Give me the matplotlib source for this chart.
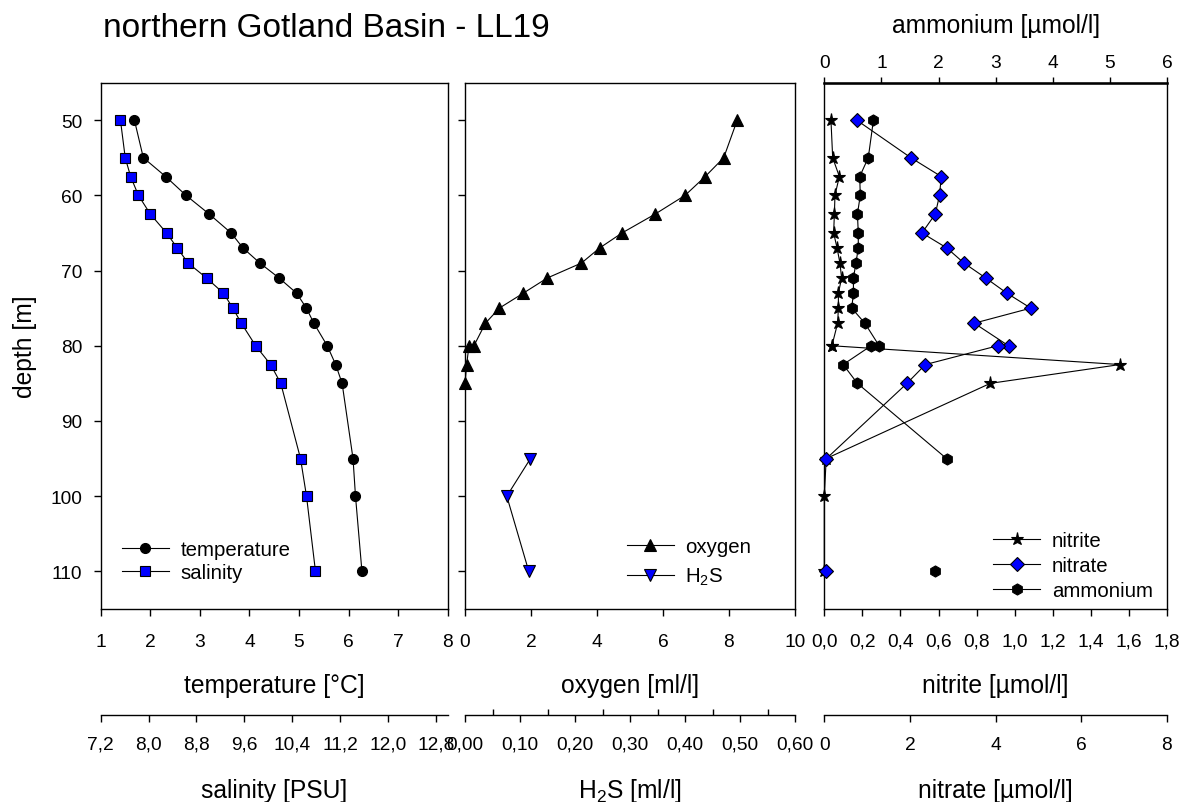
import numpy as np
import matplotlib
matplotlib.use('Agg')
import matplotlib.pyplot as plt
from matplotlib.ticker import FixedLocator, FuncFormatter
from matplotlib.transforms import blended_transform_factory as blend

plt.rcParams['font.family'] = ['Liberation Sans', 'DejaVu Sans']
plt.rcParams['mathtext.fontset'] = 'custom'
plt.rcParams['mathtext.rm'] = 'Liberation Sans'
plt.rcParams['mathtext.it'] = 'Liberation Sans:italic'
plt.rcParams['mathtext.bf'] = 'Liberation Sans:bold'

nan = np.nan
# ---------------- data ----------------
depth_ts = [50, 55, 57.5, 60, 62.5, 65, 67, 69, 71, 73, 75, 77, 80, 82.5, 85, 95, 100, 110]
temperature = [1.68, 1.86, 2.31, 2.72, 3.19, 3.63, 3.87, 4.21, 4.60, 4.95, 5.15, 5.30,
               5.57, 5.74, 5.87, 6.09, 6.14, 6.27]
salinity = [7.53, 7.61, 7.70, 7.83, 8.03, 8.30, 8.48, 8.66, 8.97, 9.25, 9.41, 9.55,
            9.79, 10.04, 10.21, 10.54, 10.64, 10.79]

depth_o2 = [50, 55, 57.5, 60, 62.5, 65, 67, 69, 71, 73, 75, 77, 80, 80, 82.5, 85]
oxygen = [8.25, 7.84, 7.28, 6.67, 5.76, 4.76, 4.08, 3.53, 2.49, 1.77, 1.04, 0.62,
          0.27, 0.12, 0.05, 0.0]
depth_h2s = [95, 100, 110]
h2s = [0.119, 0.076, 0.116]

depth_nut = [50, 55, 57.5, 60, 62.5, 65, 67, 69, 71, 73, 75, 77, 80, 80, 82.5, 85, 95, 100, 110]
nitrite = [0.035, 0.044, 0.079, 0.056, 0.053, 0.049, 0.067, 0.082, 0.091, 0.074, 0.074, 0.070,
           0.040, 0.040, 1.553, 0.872, 0.01, 0.0, 0.0]
nitrate = [0.755, 2.02, 2.73, 2.69, 2.59, 2.28, 2.86, 3.26, 3.77, 4.26, 4.82, 3.50,
           4.30, 4.05, 2.36, 1.93, 0.05, nan, 0.05]
ammonium = [0.86, 0.77, 0.62, 0.63, 0.58, 0.595, 0.595, 0.554, 0.51, 0.51, 0.48, 0.71,
            0.96, 0.82, 0.33, 0.58, 2.14, nan, 1.93]

title = 'northern Gotland Basin - LL19'
depth_ticks = [50, 60, 70, 80, 90, 100, 110]

# ---------------- layout ----------------
W, H = 1189, 803
fig = plt.figure(figsize=(W / 100, H / 100), dpi=100)
TOP, BOT = 83.5, 610.0

def rect(x0, x1):
    return [x0 / W, 1 - BOT / H, (x1 - x0) / W, (BOT - TOP) / H]

TICK_FS = 13.8
LAB_FS = 17.7
LEG_FS = 14.7
LW = 0.8
MEW = 0.8
BLUE = '#0000ff'


def comma(dec):
    return FuncFormatter(lambda v, p: f'{v:.{dec}f}'.replace('.', ','))


def style_main(ax, xlim, ticks, dec, ylabels=False, yticks=True):
    ax.set_ylim(115, 45)
    ax.set_xlim(*xlim)
    ax.xaxis.set_major_locator(FixedLocator(ticks))
    ax.xaxis.set_major_formatter(comma(dec))
    ax.set_yticks(depth_ticks)
    for s in ax.spines.values():
        s.set_linewidth(1.0)
    ax.tick_params(axis='x', direction='out', length=5, width=1.0, pad=12, labelsize=TICK_FS)
    ax.tick_params(axis='y', direction='out', length=5.3, width=1.0, pad=8,
                   labelsize=TICK_FS, left=yticks, labelleft=ylabels)


def add_bottom_twin(ax, xlim, ticks, dec):
    t = ax.twiny()
    t.set_xlim(*xlim)
    t.xaxis.set_ticks_position('bottom')
    t.xaxis.set_label_position('bottom')
    t.spines['bottom'].set_position(('outward', 76.1))
    for k in ('top', 'left', 'right'):
        t.spines[k].set_visible(False)
    t.spines['bottom'].set_linewidth(1.0)
    t.xaxis.set_major_locator(FixedLocator(ticks))
    t.xaxis.set_major_formatter(comma(dec))
    t.tick_params(axis='x', direction='out', length=4.8, width=1.0, pad=10.4, labelsize=TICK_FS)
    return t


def place_xlabel(ax, text, y_px):
    ax.set_xlabel(text, fontsize=LAB_FS, va='center')
    ax.xaxis.set_label_coords(0.5, 1 - y_px / H, transform=blend(ax.transAxes, fig.transFigure))


# ---------------- panel 1: temperature / salinity ----------------
ax1 = fig.add_axes(rect(100.7, 447.7))
style_main(ax1, (1, 8), np.arange(1, 8.01, 1), 0, ylabels=True)
ax1s = add_bottom_twin(ax1, (7.2, 13.0), np.arange(7.2, 12.81, 0.8), 1)
ax1.plot(temperature, depth_ts, color='black', lw=LW, marker='o', ms=7.2,
         mfc='black', mec='black', mew=MEW, clip_on=False, label='temperature')
ax1s.plot(salinity, depth_ts, color='black', lw=LW, marker='s', ms=7.3,
          mfc=BLUE, mec='black', mew=MEW, clip_on=False, label='salinity')
place_xlabel(ax1, 'temperature [°C]', 686)
place_xlabel(ax1s, 'salinity [PSU]', 791)
ax1.set_ylabel('depth [m]', fontsize=LAB_FS, va='center', ha='center')
ax1.yaxis.set_label_coords(25 / W, 0.5, transform=blend(fig.transFigure, ax1.transAxes))
h1, l1 = ax1.get_legend_handles_labels()
h2, l2 = ax1s.get_legend_handles_labels()
ax1s.legend(h1 + h2, l1 + l2, loc='lower left', bbox_to_anchor=(0.0605, 0.0515),
            frameon=False, fontsize=LEG_FS, handlelength=2.3, handletextpad=0.57,
            labelspacing=0.2, borderpad=0, borderaxespad=0)

# ---------------- panel 2: oxygen / H2S ----------------
ax2 = fig.add_axes(rect(465, 795))
style_main(ax2, (0, 10), np.arange(0, 10.01, 2), 0, ylabels=False)
ax2s = add_bottom_twin(ax2, (0, 0.6), np.arange(0, 0.601, 0.1), 2)
ax2s.xaxis.set_minor_locator(FixedLocator(np.arange(0.05, 0.56, 0.1)))
ax2s.tick_params(axis='x', which='minor', direction='in', length=4.5, width=1.0)
ax2.plot(oxygen, depth_o2, color='black', lw=LW, marker='^', ms=8.4,
         mfc='black', mec='black', mew=MEW, clip_on=False, label='oxygen')
ax2s.plot(h2s, depth_h2s, color='black', lw=LW, marker='v', ms=8.4,
          mfc=BLUE, mec='black', mew=MEW, clip_on=False, label=r'H$_{\mathregular{2}}$S')
place_xlabel(ax2, 'oxygen [ml/l]', 686)
place_xlabel(ax2s, r'H$_{\mathregular{2}}$S [ml/l]', 791)
h1, l1 = ax2.get_legend_handles_labels()
h2, l2 = ax2s.get_legend_handles_labels()
ax2s.legend(h1 + h2, l1 + l2, loc='lower left', bbox_to_anchor=(0.49, 0.041),
            frameon=False, fontsize=LEG_FS, handlelength=2.3, handletextpad=0.57,
            labelspacing=0.5, borderpad=0, borderaxespad=0)

# ---------------- panel 3: nutrients ----------------
ax3 = fig.add_axes(rect(824.3, 1167))
style_main(ax3, (0, 1.8), np.arange(0, 1.801, 0.2), 1, ylabels=False, yticks=False)
ax3n = add_bottom_twin(ax3, (0, 8), np.arange(0, 8.01, 2), 0)
ax3a = ax3.twiny()
ax3a.set_xlim(0, 6)
ax3a.xaxis.set_major_locator(FixedLocator(np.arange(0, 6.01, 1)))
ax3a.xaxis.set_major_formatter(comma(0))
for k in ('bottom', 'left', 'right'):
    ax3a.spines[k].set_visible(False)
ax3a.spines['top'].set_linewidth(1.8)
ax3a.tick_params(axis='x', direction='out', length=4.5, width=1.0, pad=3.6, labelsize=TICK_FS)

ax3.plot(nitrite, depth_nut, color='black', lw=LW, marker='*', ms=9.5,
         mfc='black', mec='black', mew=MEW, clip_on=False, label='nitrite')
ax3n.plot(nitrate, depth_nut, color='black', lw=LW, marker='D', ms=7.1,
          mfc=BLUE, mec='black', mew=MEW, clip_on=False, label='nitrate')
ax3a.plot(ammonium, depth_nut, color='black', lw=LW, marker='h', ms=8.0,
          mfc='black', mec='black', mew=MEW, clip_on=False, label='ammonium')
place_xlabel(ax3, 'nitrite [µmol/l]', 686)
place_xlabel(ax3n, 'nitrate [µmol/l]', 791)
ax3a.set_xlabel('ammonium [µmol/l]', fontsize=LAB_FS, va='center')
ax3a.xaxis.set_label_coords(0.5, 1 - 25.8 / H, transform=blend(ax3a.transAxes, fig.transFigure))

hs, ls = [], []
for a in (ax3, ax3n, ax3a):
    h, l = a.get_legend_handles_labels()
    hs += h
    ls += l
ax3a.legend(hs, ls, loc='lower left', bbox_to_anchor=(0.493, 0.017),
            frameon=False, fontsize=LEG_FS, handlelength=2.3, handletextpad=0.57,
            labelspacing=0.3, borderpad=0, borderaxespad=0)

fig.text(102.7 / W, 1 - 36.7 / H, title, fontsize=24, ha='left', va='baseline')

fig.savefig('out.png', dpi=100)
